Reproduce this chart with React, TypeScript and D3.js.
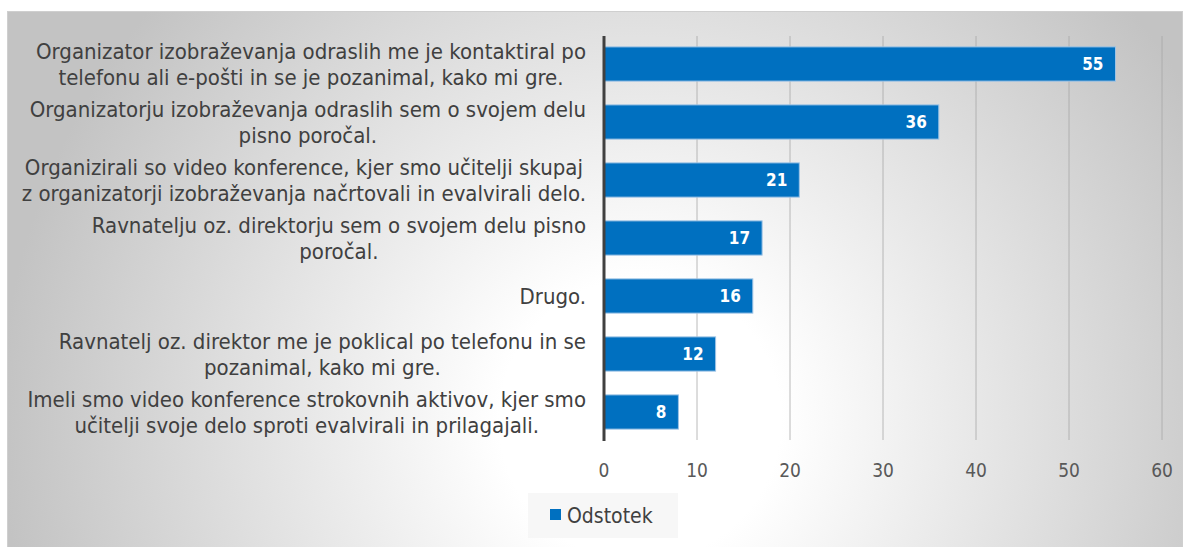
import React from "react";
import * as d3 from "d3";

const categories = [
  ["Organizator izobraževanja odraslih me je kontaktiral po", "telefonu ali e-pošti in se je pozanimal, kako mi gre."],
  ["Organizatorju izobraževanja odraslih sem o svojem delu", "pisno poročal."],
  ["Organizirali so video konference, kjer smo učitelji skupaj", "z organizatorji izobraževanja načrtovali in evalvirali delo."],
  ["Ravnatelju oz. direktorju sem o svojem delu pisno", "poročal."],
  ["Drugo."],
  ["Ravnatelj oz. direktor me je poklical po telefonu in se", "pozanimal, kako mi gre."],
  ["Imeli smo video konference strokovnih aktivov, kjer smo", "učitelji svoje delo sproti evalvirali in prilagajali."],
];
const values = [55, 36, 21, 17, 16, 12, 8];
const ticks = [0, 10, 20, 30, 40, 50, 60];
const seriesName = "Odstotek";

const W = 1183;
const H = 547;
const FONT = "'DejaVu Sans Condensed', 'DejaVu Sans', sans-serif";

const App = () => {
  const ref = React.useRef<SVGSVGElement>(null);

  React.useEffect(() => {
    const svg = d3.select(ref.current);
    svg.selectAll("*").remove();

    const defs = svg.append("defs");
    const grad = defs.append("radialGradient")
      .attr("id", "bg")
      .attr("gradientUnits", "userSpaceOnUse")
      .attr("cx", 640).attr("cy", 420).attr("r", 640);
    grad.append("stop").attr("offset", "0%").attr("stop-color", "#ffffff");
    grad.append("stop").attr("offset", "22%").attr("stop-color", "#ffffff");
    grad.append("stop").attr("offset", "100%").attr("stop-color", "#c3c3c3");

    svg.append("rect")
      .attr("x", 7.5).attr("y", 11.5)
      .attr("width", W - 8).attr("height", H - 11)
      .attr("fill", "url(#bg)")
      .attr("stroke", "#cfcfcf");

    const x = d3.scaleLinear().domain([0, 60]).range([604, 1162]);
    const y = d3.scaleBand<number>()
      .domain(d3.range(values.length))
      .range([35, 441])
      .paddingInner(0.41)
      .paddingOuter(0.205);

    // gridlines
    svg.append("g")
      .selectAll("line")
      .data(ticks.slice(1))
      .enter()
      .append("line")
      .attr("x1", d => x(d)).attr("x2", d => x(d))
      .attr("y1", 36).attr("y2", 440)
      .attr("stroke", "#a6a6a6")
      .attr("stroke-opacity", 0.6)
      .attr("stroke-width", 1.3);

    // tick labels
    svg.append("g")
      .selectAll("text")
      .data(ticks)
      .enter()
      .append("text")
      .attr("x", d => x(d))
      .attr("y", 477)
      .attr("text-anchor", "middle")
      .style("font-family", FONT)
      .style("font-size", "19px")
      .style("fill", "#595959")
      .text(d => d);

    // bars
    svg.append("g")
      .selectAll("rect")
      .data(values)
      .enter()
      .append("rect")
      .attr("x", x(0))
      .attr("y", (d, i) => y(i)!)
      .attr("width", d => x(d) - x(0))
      .attr("height", y.bandwidth())
      .attr("fill", "#0070c0")
      .attr("stroke", "#9dc3e6")
      .attr("stroke-width", 1);

    // value labels
    svg.append("g")
      .selectAll("text")
      .data(values)
      .enter()
      .append("text")
      .attr("x", d => x(d) - 12)
      .attr("y", (d, i) => y(i)! + y.bandwidth() / 2 + 6)
      .attr("text-anchor", "end")
      .style("font-family", FONT)
      .style("font-size", "17px")
      .style("font-weight", "bold")
      .style("fill", "#ffffff")
      .text(d => d);

    // zero axis
    svg.append("line")
      .attr("x1", x(0)).attr("x2", x(0))
      .attr("y1", 36).attr("y2", 441)
      .attr("stroke", "#404040")
      .attr("stroke-width", 3);

    // category labels
    const lineH = 26;
    categories.forEach((lines, i) => {
      const g = svg.append("g");
      const cy = y(i)! + y.bandwidth() / 2;
      const texts = lines.map((ln, k) =>
        g.append("text")
          .attr("y", cy + (k - (lines.length - 1) / 2) * lineH + 8)
          .attr("text-anchor", "middle")
          .style("font-family", FONT)
          .style("font-size", "22px")
          .style("fill", "#404040")
          .text(ln)
      );
      const maxW = d3.max(texts, t => (t.node() as SVGTextElement).getComputedTextLength()) || 0;
      texts.forEach(t => t.attr("x", 586 - maxW / 2));
    });

    // legend
    const lg = svg.append("g");
    lg.append("rect")
      .attr("x", 528).attr("y", 493)
      .attr("width", 150).attr("height", 45)
      .attr("fill", "#f4f4f4")
      .attr("fill-opacity", 0.7);
    lg.append("rect")
      .attr("x", 550).attr("y", 509)
      .attr("width", 11).attr("height", 11)
      .attr("fill", "#0070c0");
    lg.append("text")
      .attr("x", 567).attr("y", 523)
      .style("font-family", FONT)
      .style("font-size", "21px")
      .style("fill", "#404040")
      .text(seriesName);
  }, []);

  return (
    <svg
      ref={ref}
      width={W}
      height={H}
      style={{ position: "absolute", left: 0, top: 0 }}
    />
  );
};

export default App;
